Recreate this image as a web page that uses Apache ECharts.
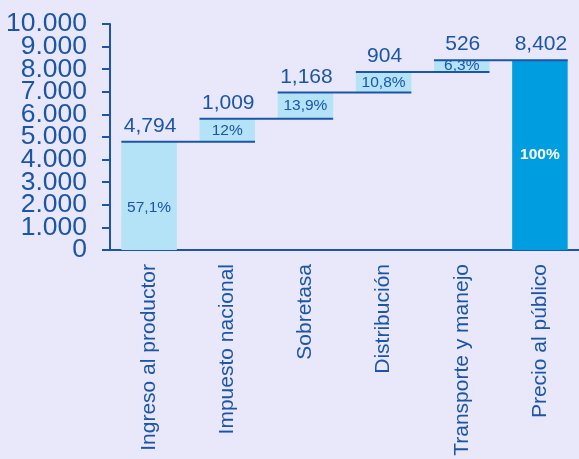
<!DOCTYPE html>
<html>
<head>
<meta charset="utf-8">
<script src="https://cdn.jsdelivr.net/npm/echarts@6/dist/echarts.min.js"></script>
<style>
  html, body { margin: 0; padding: 0; background: #e8e8fa; }
  #chart { width: 579px; height: 459px; }
</style>
</head>
<body>
<div id="chart"></div>
<script>
// Composition of the public fuel price (waterfall)
const categories = ['Ingreso al productor', 'Impuesto nacional', 'Sobretasa', 'Distribución', 'Transporte y manejo', 'Precio al público'];
const amounts = [4794, 1009, 1168, 904, 526, 8402];
const shares = ['57,1%', '12%', '13,9%', '10,8%', '6,3%', '100%'];
const yTicks = [0, 1000, 2000, 3000, 4000, 5000, 6000, 7000, 8000, 9000, 10000];

const BLUE = '#1c55a6';
const LIGHT = '#b4e3f7';
const DARK = '#009ee0';
const FONT = '"Liberation Sans", Arial, sans-serif';
const BAR_RATIO = 0.71;
const last = amounts.length - 1;

// floating bases: running total of the components; the total bar starts at zero
const bases = [];
const tops = [];
let running = 0;
amounts.forEach((v, i) => {
  if (i === last) { bases.push(0); tops.push(v); }
  else { bases.push(running); running += v; tops.push(running); }
});

const fmtThousands = (v, sep) => String(v).replace(/\B(?=(\d{3})+(?!\d))/g, sep);

const barData = amounts.map((v, i) => {
  const item = { value: v, itemStyle: { color: i === last ? DARK : LIGHT } };
  if (i === last) item.label = { color: '#ffffff', fontWeight: 'bold', fontSize: 15.5 };
  if (i === 0) item.label = { offset: [0, 12] };
  return item;
});

// the tall tick labels touch each other, so even and odd thousands sit on two
// coincident axes to keep every label visible
const evenTicks = yTicks.filter((v, i) => i % 2 === 0);
const oddTicks = yTicks.filter((v, i) => i % 2 === 1);

const valueAxis = (values, showLine) => ({
  type: 'value',
  position: 'left',
  min: yTicks[0],
  max: yTicks[yTicks.length - 1],
  interval: yTicks[1] - yTicks[0],
  splitLine: { show: false },
  axisLine: { show: showLine, onZero: false, lineStyle: { color: BLUE, width: 2 } },
  axisTick: { show: true, inside: false, length: 8, customValues: values, lineStyle: { color: BLUE, width: 2 } },
  axisLabel: {
    color: BLUE, fontSize: 26.5, fontFamily: FONT, margin: 23,
    customValues: values, showMinLabel: true, showMaxLabel: true,
    formatter: v => fmtThousands(v, '.')
  }
});

const chart = echarts.init(document.getElementById('chart'), null, { renderer: 'canvas' });

chart.setOption({
  backgroundColor: '#e8e8fa',
  animation: false,
  grid: { left: 110, top: 24, width: 473, height: 226, containLabel: false },
  xAxis: {
    type: 'category',
    data: categories,
    axisLine: { lineStyle: { color: BLUE, width: 2 } },
    axisTick: { show: false },
    axisLabel: {
      rotate: 90, margin: 14, color: BLUE, fontSize: 21, fontFamily: FONT, interval: 0
    }
  },
  yAxis: [valueAxis(evenTicks, true), valueAxis(oddTicks, false)],
  series: [
    {
      type: 'bar', stack: 'w', barWidth: (BAR_RATIO * 100) + '%',
      itemStyle: { color: 'transparent' },
      emphasis: { disabled: true },
      data: bases
    },
    {
      type: 'bar', stack: 'w', barWidth: (BAR_RATIO * 100) + '%',
      emphasis: { disabled: true },
      label: {
        show: true, position: 'inside', color: BLUE, fontSize: 15.5, fontFamily: FONT,
        formatter: p => shares[p.dataIndex]
      },
      data: barData
    },
    {
      // step connectors and value labels above each bar
      type: 'custom',
      silent: true,
      z: 5,
      data: tops.map((t, i) => [i, t]),
      renderItem: (params, api) => {
        const idx = api.value(0);
        const level = api.value(1);
        const p = api.coord([idx, level]);
        const w = api.size([1, 0])[0];
        const bw = w * BAR_RATIO;
        const children = [];
        if (idx < last) {
          children.push({
            type: 'line',
            shape: { x1: p[0] - bw / 2, y1: p[1], x2: p[0] + w + bw / 2, y2: p[1] },
            style: { stroke: BLUE, lineWidth: 2 }
          });
        }
        children.push({
          type: 'text',
          style: {
            x: p[0] + 1, y: p[1] - 5,
            text: fmtThousands(amounts[idx], ','),
            fill: BLUE, font: '21px ' + FONT,
            textAlign: 'center', textVerticalAlign: 'bottom'
          }
        });
        return { type: 'group', children: children };
      }
    }
  ]
});
</script>
</body>
</html>
